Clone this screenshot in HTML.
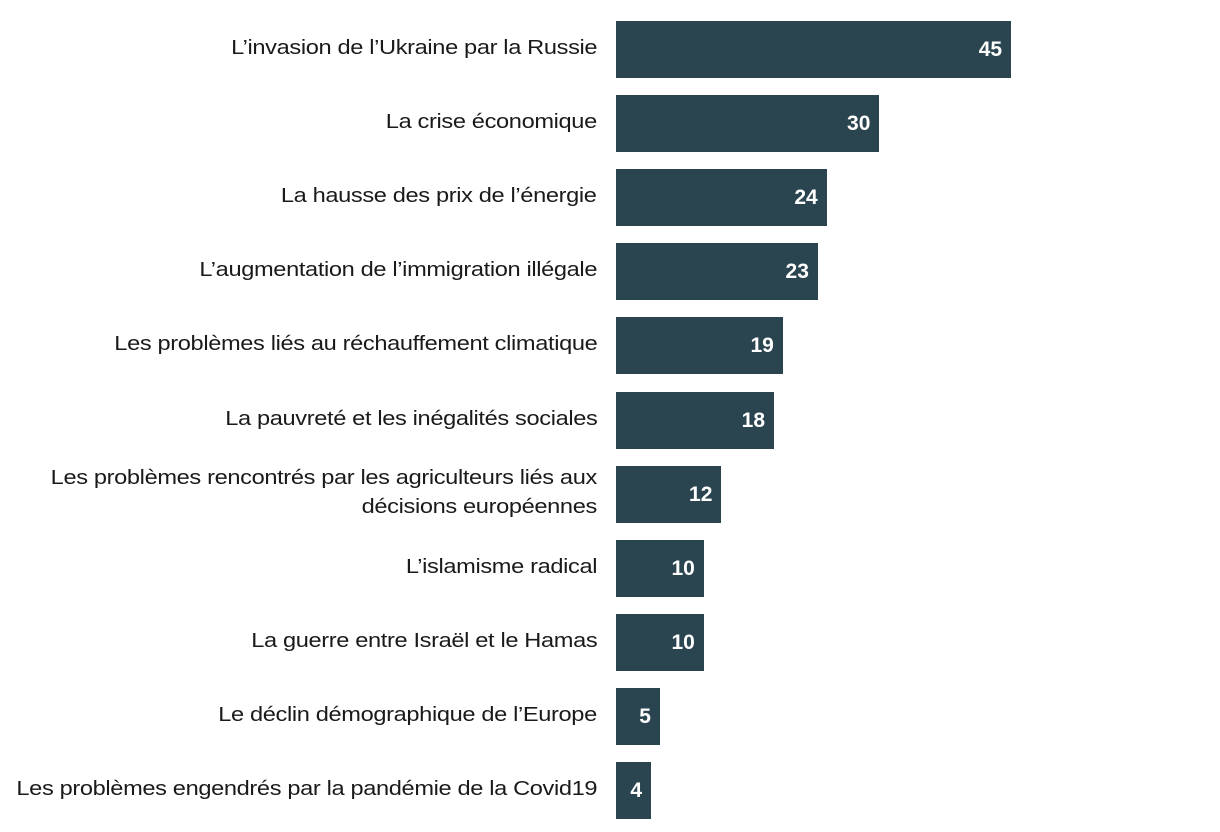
<!DOCTYPE html>
<html><head><meta charset="utf-8"><style>
body{margin:0;width:1220px;height:832px;background:#fff;position:relative;font-family:"Liberation Sans",sans-serif;overflow:hidden}
.b{position:absolute;left:616px;height:57px;background:#2b4550}
.v{position:absolute;right:9px;top:0;line-height:57px;color:#fff;font-weight:bold;font-size:21px;letter-spacing:0px}
.l{position:absolute;right:623px;color:#1a1a1a;font-size:20px;text-align:right;line-height:29px;white-space:nowrap;transform:scaleX(1.18);transform-origin:right center;letter-spacing:-0.3px}
</style></head><body>
<div id="c"></div>
<script>
const d=[["L’invasion de l’Ukraine par la Russie",45],["La crise économique",30],["La hausse des prix de l’énergie",24],["L’augmentation de l’immigration illégale",23],["Les problèmes liés au réchauffement climatique",19],["La pauvreté et les inégalités sociales",18],["Les problèmes rencontrés par les agriculteurs liés aux<br>décisions européennes",12],["L’islamisme radical",10],["La guerre entre Israël et le Hamas",10],["Le déclin démographique de l’Europe",5],["Les problèmes engendrés par la pandémie de la Covid19",4]];
let h="";
d.forEach((r,i)=>{const t=21+i*74.1;const two=r[0].includes("<br>");
h+=`<div class="b" style="top:${t}px;width:${(r[1]*8.78).toFixed(1)}px"><span class="v">${r[1]}</span></div>`;
h+=`<div class="l" style="top:${t+27.5-(two?29:14.5)}px">${r[0]}</div>`;});
document.getElementById("c").innerHTML=h;
</script>
</body></html>
